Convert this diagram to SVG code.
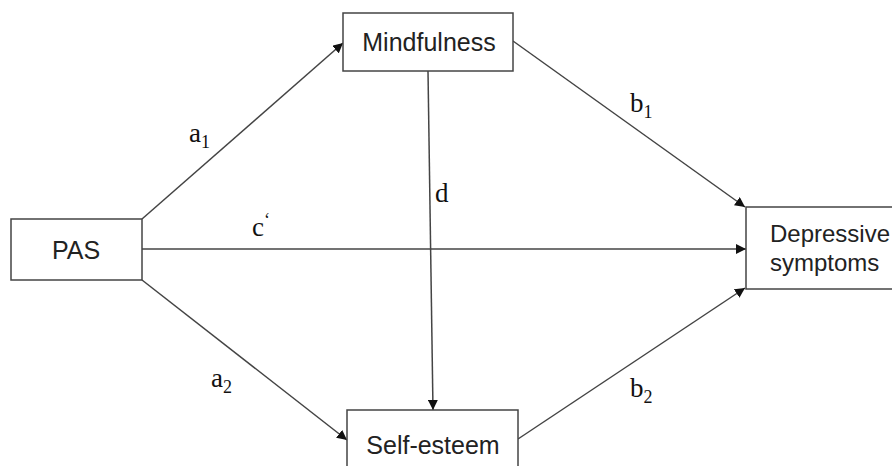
<svg xmlns="http://www.w3.org/2000/svg" width="892" height="466" viewBox="0 0 892 466">
<defs>
<marker id="ah" viewBox="0 0 10 10" refX="10" refY="5" markerWidth="10" markerHeight="10" markerUnits="userSpaceOnUse" orient="auto">
<path d="M0,0 L10,5 L0,10 z" fill="#111"/>
</marker>
<style>
.box{fill:#fff;stroke:#444;stroke-width:1.5}
.lbl{font-family:"Liberation Sans",Arial,sans-serif;font-size:25px;fill:#222}
.lbl2{font-family:"Liberation Sans",Arial,sans-serif;font-size:24px;fill:#222}
.conn line{stroke:#444;stroke-width:1.5;marker-end:url(#ah)}
.path{font-family:"Liberation Serif","Times New Roman",serif;font-size:27px;fill:#111}
.sub{font-size:18px}
</style>
</defs>
<rect width="892" height="466" fill="#fff"/>
<g class="conn" id="connectors">
<line x1="142" y1="219" x2="343" y2="43"/>
<line x1="142" y1="249" x2="746" y2="249"/>
<line x1="142" y1="280" x2="347" y2="440"/>
<line x1="428" y1="71" x2="433" y2="410"/>
<line x1="513" y1="41" x2="745" y2="207"/>
<line x1="518" y1="439" x2="745" y2="288"/>
</g>
<g id="n-mindfulness">
<rect class="box" x="343" y="13" width="170" height="58"/>
<text class="lbl" x="429" y="51" text-anchor="middle">Mindfulness</text>
</g>
<g id="n-selfesteem">
<rect class="box" x="347" y="410" width="171" height="70"/>
<text class="lbl" x="433" y="454" text-anchor="middle">Self-esteem</text>
</g>
<g id="n-pas">
<rect class="box" x="11" y="219" width="131" height="61"/>
<text class="lbl" x="76" y="259" text-anchor="middle">PAS</text>
</g>
<g id="n-depressive">
<rect class="box" x="746" y="207" width="160" height="82"/>
<text class="lbl2" x="770" y="242">Depressive</text>
<text class="lbl2" x="770" y="271">symptoms</text>
</g>
<g id="labels">
<text class="path" x="189" y="142">a<tspan class="sub" dy="6">1</tspan></text>
<text class="path" x="211" y="387">a<tspan class="sub" dy="6">2</tspan></text>
<text class="path" x="435" y="202">d</text>
<text class="path" x="630" y="112">b<tspan class="sub" dy="6">1</tspan></text>
<text class="path" x="630" y="397">b<tspan class="sub" dy="6">2</tspan></text>
<text class="path" x="252" y="236">c<tspan class="sub" dy="-10">‘</tspan></text>
</g>
</svg>
